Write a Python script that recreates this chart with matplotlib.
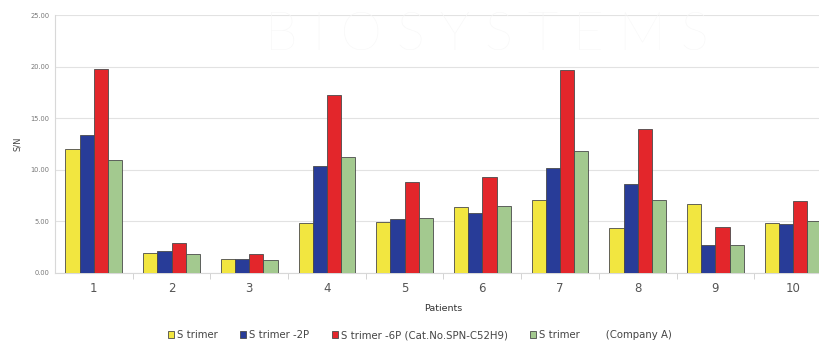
import matplotlib
matplotlib.use("Agg")
import matplotlib.pyplot as plt
import numpy as np
from matplotlib.patches import Patch

patients = ["1", "2", "3", "4", "5", "6", "7", "8", "9", "10"]
s_trimer = [12.0, 1.9, 1.33, 4.83, 4.93, 6.42, 7.07, 4.31, 6.68, 4.8]
s_trimer_2p = [13.4, 2.1, 1.3, 10.34, 5.25, 5.8, 10.18, 8.59, 2.69, 4.73]
s_trimer_6p = [19.75, 2.9, 1.8, 17.3, 8.82, 9.27, 19.7, 13.94, 4.41, 6.94]
s_trimer_a = [10.96, 1.8, 1.2, 11.2, 5.32, 6.45, 11.8, 7.07, 2.66, 5.06]
series_labels = ["S trimer", "S trimer -2P", "S trimer -6P (Cat.No.SPN-C52H9)",
                 "S trimer        (Company A)"]
y_ticks = [0, 5, 10, 15, 20, 25]

colors = ["#f2e640", "#283c98", "#e3262b", "#a3c98f"]

fig = plt.figure(figsize=(8.2, 3.44), dpi=100)
W, H = 820, 344
left_px, right_px = 55, 832
top_px, bot_px = 15.3, 272.7
ax = fig.add_axes([left_px / W, 1 - bot_px / H, (right_px - left_px) / W, (bot_px - top_px) / H])

# faint watermark
fig.text(487 / W, 1 - 36 / H, "B I O S Y S T E M S", fontsize=38, color="#f7f7f7",
         ha="center", va="center", family="Lato", fontweight="light", zorder=0)

x = np.arange(1, len(patients) + 1)
bw = 0.183
data = [s_trimer, s_trimer_2p, s_trimer_6p, s_trimer_a]
for i, (vals, c) in enumerate(zip(data, colors)):
    ax.bar(x + (i - 1.5) * bw, vals, width=bw, color=c, edgecolor="#4a4a4a",
           linewidth=0.6, zorder=3)

ax.set_xlim(0.5, 10.5)
ax.set_ylim(0, 25)
ax.set_yticks(y_ticks)
ax.set_yticklabels([f"{v:.2f}" for v in y_ticks], fontsize=4.8, color="#777777")
ax.set_xticks(x)
ax.set_xticklabels(patients, fontsize=8.5, color="#555555")
ax.set_xticks(np.arange(1.5, 10.5, 1), minor=True)
ax.tick_params(axis="x", which="major", length=0, pad=7)
ax.tick_params(axis="x", which="minor", length=4, color="#cccccc", width=0.6)
ax.tick_params(axis="y", length=0, pad=4)
ax.grid(axis="y", color="#e2e2e2", linewidth=0.8, zorder=0)
for s in ["top", "right"]:
    ax.spines[s].set_visible(False)
ax.spines["left"].set_color("#d8d8d8")
ax.spines["bottom"].set_color("#d8d8d8")
ax.patch.set_alpha(0)

ax.set_xlabel("Patients", fontsize=6.8, color="#333333", labelpad=6)
ax.set_ylabel("S/N", fontsize=6, color="#444444", labelpad=6)

handles = [Patch(facecolor=c, edgecolor="#4a4a4a", linewidth=0.6) for c in colors]
fig.legend(handles, series_labels, loc="center", bbox_to_anchor=(420 / W, 1 - 335 / H), ncol=4,
           frameon=False, fontsize=7.3, handlelength=0.6, handleheight=0.6,
           handletextpad=0.3, columnspacing=2.2, labelcolor="#444444")

fig.savefig("out.png", dpi=100)
